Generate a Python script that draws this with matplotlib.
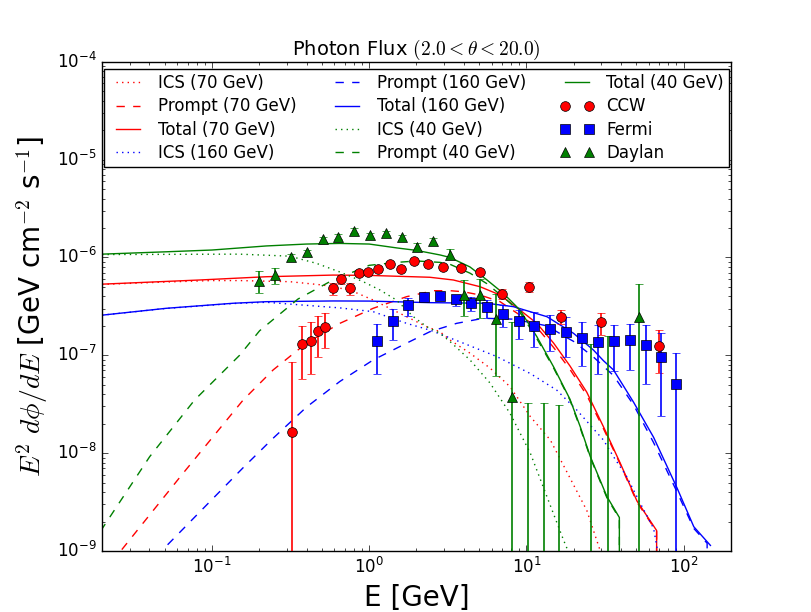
import matplotlib
matplotlib.use('Agg')
import matplotlib.pyplot as plt
from matplotlib.lines import Line2D
from matplotlib.legend_handler import HandlerLine2D
import numpy as np

plt.style.use('classic')

# ---------------- model curves ----------------
# 70 GeV
ics70_E = [0.02, 0.05, 0.1, 0.15, 0.313, 0.509, 0.753, 1.06, 1.35, 1.73, 2.32, 2.82, 3.27, 4.38,
           5.87, 7.87, 10.6, 14.2, 18.9, 24.2, 29.5, 31.0]
ics70_F = [5.3e-7, 5.6e-7, 5.8e-7, 5.8e-7, 5.65e-7, 5.22e-7, 4.65e-7, 3.67e-7, 3.02e-7, 2.48e-7,
           1.96e-7, 1.74e-7, 1.43e-7, 1.05e-7, 7.4e-8, 4.77e-8, 2.36e-8, 1.36e-8, 5.6e-9, 2.6e-9,
           1.0e-9, 8.0e-10]
pr70_E = [0.02, 0.0263, 0.0654, 0.158, 0.245, 0.399, 0.651, 1.06, 1.73, 2.56, 3.27, 3.97, 5.07,
          6.8, 9.1, 11.65, 14.9, 18.9, 24.2, 30.9, 39.5, 50.5, 67.3, 68.0]
pr70_F = [5.5e-10, 1.0e-9, 6.2e-9, 3.49e-8, 7.08e-8, 1.33e-7, 2.12e-7, 3.02e-7, 3.97e-7, 4.57e-7,
          4.57e-7, 4.46e-7, 4.13e-7, 3.53e-7, 2.57e-7, 1.93e-7, 1.2e-7, 7.2e-8, 3.9e-8, 1.78e-8,
          7.7e-9, 3.15e-9, 1.58e-9, 0.0]
tot70_E = [0.02, 0.0835, 0.222, 0.59, 1.0, 2.43, 3.43, 5.07, 6.8, 9.1, 11.65, 14.9, 18.9, 24.2,
           30.9, 39.5, 50.5, 67.3, 68.0]
tot70_F = [5.33e-7, 5.88e-7, 6.35e-7, 6.6e-7, 6.55e-7, 6.27e-7, 5.88e-7, 5.02e-7, 4.13e-7, 2.9e-7,
           2.12e-7, 1.33e-7, 7.8e-8, 4.2e-8, 1.86e-8, 7.9e-9, 3.24e-9, 1.62e-9, 0.0]

# 160 GeV
ics160_E = [0.02, 0.05, 0.136, 0.222, 0.651, 1.06, 1.73, 2.43, 3.97, 6.48, 10.6, 15.6, 20.9, 30.9,
            35.8, 43.6, 53.0, 64.4, 67.6, 70.0]
ics160_F = [2.57e-7, 3.0e-7, 3.38e-7, 3.48e-7, 3.05e-7, 2.79e-7, 2.12e-7, 1.81e-7, 1.33e-7, 9.7e-8,
            6.5e-8, 4.4e-8, 2.76e-8, 1.36e-8, 9.2e-9, 5.7e-9, 3.07e-9, 1.7e-9, 1.1e-9, 7.0e-10]
pr160_E = [0.045, 0.0512, 0.158, 0.245, 0.399, 0.651, 1.06, 1.73, 2.43, 3.6, 5.33, 8.26, 13.5,
           18.0, 19.9, 26.7, 35.8, 48.1, 64.4, 90.8, 116.0, 141.0, 142.0]
pr160_F = [8.5e-10, 1.12e-9, 7.1e-9, 1.42e-8, 2.95e-8, 5.4e-8, 8.95e-8, 1.33e-7, 1.74e-7, 2.12e-7,
           2.39e-7, 2.34e-7, 2.0e-7, 1.52e-7, 1.39e-7, 9.6e-8, 6.2e-8, 3.1e-8, 1.28e-8, 4.0e-9,
           1.7e-9, 1.2e-9, 0.0]
tot160_E = [0.02, 0.0512, 0.136, 0.222, 0.59, 1.0, 2.43, 5.6, 8.26, 13.5, 19.9, 26.7, 30.9, 35.8,
            48.1, 64.4, 90.8, 116.0, 148.0]
tot160_F = [2.57e-7, 3.02e-7, 3.40e-7, 3.53e-7, 3.59e-7, 3.58e-7, 3.45e-7, 3.40e-7, 3.14e-7,
            2.48e-7, 1.68e-7, 1.13e-7, 8.8e-8, 7.08e-8, 3.3e-8, 1.45e-8, 4.4e-9, 1.77e-9, 1.14e-9]

# 40 GeV
ics40_E = [0.02, 0.15, 0.313, 0.462, 0.651, 0.916, 1.17, 1.49, 1.91, 2.32, 2.82, 3.27, 4.38, 5.87,
           7.87, 10.6, 13.5, 17.2, 18.4, 20.0]
ics40_F = [1.07e-6, 1.08e-6, 1.03e-6, 8.7e-7, 7.1e-7, 5.65e-7, 4.65e-7, 3.67e-7, 2.48e-7, 1.96e-7,
           1.68e-7, 1.38e-7, 8.95e-8, 5.2e-8, 2.55e-8, 9.96e-9, 3.6e-9, 1.3e-9, 1.0e-9, 7.0e-10]
pr40_E = [0.0196, 0.0402, 0.0776, 0.15, 0.201, 0.353, 0.562, 1.0, 1.5, 2.0, 2.82, 3.27, 4.38, 5.6,
          7.5, 9.1, 11.65, 14.9, 18.9, 22.0, 25.5, 32.5, 39.0, 39.5]
pr40_F = [1.6e-9, 9.2e-9, 3.49e-8, 1.0e-7, 1.78e-7, 3.76e-7, 5.65e-7, 8.3e-7, 8.9e-7, 9.2e-7,
          8.9e-7, 8.5e-7, 6.9e-7, 5.4e-7, 3.67e-7, 2.75e-7, 1.48e-7, 7.4e-8, 3.5e-8, 1.8e-8,
          9.0e-9, 3.5e-9, 2.15e-9, 0.0]
tot40_E = [0.02, 0.05, 0.1, 0.222, 0.40, 0.65, 1.0, 1.5, 2.0, 2.82, 3.26, 4.37, 5.6, 7.13, 9.1,
           11.65, 14.9, 18.9, 22.0, 25.5, 32.5, 39.0, 39.5]
tot40_F = [1.08e-6, 1.14e-6, 1.19e-6, 1.31e-6, 1.37e-6, 1.39e-6, 1.37e-6, 1.25e-6, 1.18e-6,
           1.06e-6, 1.0e-6, 8.0e-7, 5.9e-7, 4.3e-7, 2.9e-7, 1.55e-7, 7.6e-8, 3.57e-8, 1.86e-8,
           9.2e-9, 3.6e-9, 2.2e-9, 0.0]

# ---------------- data points ----------------
ccw_E = [0.323, 0.374, 0.427, 0.473, 0.525, 0.590, 0.663, 0.757, 0.859, 0.98, 1.14, 1.35, 1.60,
         1.93, 2.38, 2.96, 3.85, 5.09, 7.03, 10.4, 16.7, 29.9, 70.0]
ccw_F = [1.64e-8, 1.29e-7, 1.40e-7, 1.77e-7, 1.95e-7, 4.83e-7, 5.97e-7, 4.83e-7, 6.9e-7, 7.05e-7,
         7.7e-7, 8.5e-7, 7.6e-7, 9.3e-7, 8.5e-7, 7.98e-7, 7.75e-7, 7.1e-7, 4.2e-7, 4.99e-7,
         2.46e-7, 2.17e-7, 1.25e-7]
ccw_lo = [1e-12, 5.7e-8, 6.4e-8, 9.6e-8, 1.18e-7, 4.1e-7, 5.4e-7, 4.1e-7, 6.5e-7, 6.7e-7, 7.3e-7,
          8.1e-7, 7.2e-7, 8.9e-7, 8.1e-7, 7.6e-7, 7.4e-7, 6.7e-7, 3.73e-7, 4.4e-7, 2.07e-7,
          1.6e-7, 6.6e-8]
ccw_hi = [8.6e-8, 2.0e-7, 2.17e-7, 2.54e-7, 2.72e-7, 5.5e-7, 6.6e-7, 5.5e-7, 7.3e-7, 7.4e-7,
          8.1e-7, 8.9e-7, 8.0e-7, 9.7e-7, 8.9e-7, 8.4e-7, 8.1e-7, 7.5e-7, 4.72e-7, 5.57e-7,
          2.9e-7, 2.72e-7, 1.81e-7]

fermi_E = [1.125, 1.42, 1.77, 2.23, 2.83, 3.58, 4.47, 5.64, 7.14, 9.02, 11.2, 14.2, 17.9, 22.6,
           28.5, 35.8, 45.3, 57.3, 71.4, 89.8]
fermi_F = [1.39e-7, 2.22e-7, 3.24e-7, 3.9e-7, 4.04e-7, 3.73e-7, 3.40e-7, 3.09e-7, 2.64e-7,
           2.24e-7, 1.98e-7, 1.84e-7, 1.72e-7, 1.49e-7, 1.36e-7, 1.39e-7, 1.42e-7, 1.26e-7,
           9.5e-8, 5.1e-8]
fermi_lo = [6.5e-8, 1.43e-7, 2.50e-7, 3.6e-7, 3.72e-7, 3.19e-7, 2.86e-7, 2.40e-7, 1.96e-7,
            1.47e-7, 1.22e-7, 1.10e-7, 9.7e-8, 7.8e-8, 6.5e-8, 6.9e-8, 7.0e-8, 5.05e-8, 2.4e-8,
            1e-12]
fermi_hi = [2.07e-7, 3.0e-7, 3.87e-7, 4.2e-7, 4.36e-7, 4.1e-7, 3.94e-7, 3.67e-7, 3.26e-7, 2.9e-7,
            2.75e-7, 2.58e-7, 2.44e-7, 2.2e-7, 2.02e-7, 2.05e-7, 2.1e-7, 2.02e-7, 1.68e-7,
            1.05e-7]

daylan_E = [0.199, 0.252, 0.317, 0.403, 0.509, 0.635, 0.80, 1.01, 1.28, 1.61, 2.02, 2.56, 3.25,
            4.03, 5.09, 6.44, 8.14, 10.2, 13.0, 16.2, 25.8, 32.8, 51.7]
daylan_F = [5.74e-7, 6.6e-7, 1.0e-6, 1.13e-6, 1.53e-6, 1.63e-6, 1.88e-6, 1.68e-6, 1.79e-6,
            1.61e-6, 1.29e-6, 1.48e-6, 1.06e-6, 4.16e-7, 4.16e-7, 2.35e-7, 3.77e-8, 1e-12, 1e-12,
            1e-12, 1e-12, 1e-12, 2.46e-7]
daylan_lo = [4.3e-7, 5.35e-7, 9.2e-7, 1.06e-6, 1.45e-6, 1.54e-6, 1.78e-6, 1.59e-6, 1.70e-6,
             1.52e-6, 1.17e-6, 1.37e-6, 9.6e-7, 2.5e-7, 2.42e-7, 6.2e-8, 1e-13, 1e-13, 1e-13,
             1e-13, 1e-13, 1e-13, 1e-13]
daylan_hi = [7.2e-7, 7.85e-7, 1.08e-6, 1.2e-6, 1.61e-6, 1.72e-6, 1.98e-6, 1.77e-6, 1.88e-6,
             1.70e-6, 1.41e-6, 1.59e-6, 1.22e-6, 5.9e-7, 6.0e-7, 4.2e-7, 2.2e-7, 3.27e-8, 3.27e-8,
             3.08e-8, 1.29e-7, 1.56e-7, 5.3e-7]

labels = ['ICS (70 GeV)', 'Prompt (70 GeV)', 'Total (70 GeV)',
          'ICS (160 GeV)', 'Prompt (160 GeV)', 'Total (160 GeV)',
          'ICS (40 GeV)', 'Prompt (40 GeV)', 'Total (40 GeV)',
          'CCW', 'Fermi', 'Daylan']


class OffsetLineHandler(HandlerLine2D):
    """Line legend handle that starts a little inside the handle box and
    puts the markers on the two ends of the line (old matplotlib look)."""

    def get_xdata(self, legend, xdescent, ydescent, width, height, fontsize):
        n = self.get_numpoints(legend)
        x0 = -xdescent + 0.42 * fontsize
        x1 = -xdescent + width
        xd = np.linspace(x0, x1, max(n, 2))
        return xd, xd


fig = plt.figure(figsize=(8.12, 6.12), dpi=100)
ax = fig.add_axes([102 / 812, (612 - 551) / 612, 629 / 812, 489.3 / 612])
ax.set_xscale('log')
ax.set_yscale('log')

h = []
h += ax.plot(ics70_E, ics70_F, 'r:')
h += ax.plot(pr70_E, pr70_F, 'r--')
h += ax.plot(tot70_E, tot70_F, 'r-')
h += ax.plot(ics160_E, ics160_F, 'b:')
h += ax.plot(pr160_E, pr160_F, 'b--')
h += ax.plot(tot160_E, tot160_F, 'b-')
h += ax.plot(ics40_E, ics40_F, 'g:')
h += ax.plot(pr40_E, pr40_F, 'g--')
h += ax.plot(tot40_E, tot40_F, 'g-')


def eb(E, F, lo, hi, fmt, col):
    F = np.array(F)
    yerr = [F - np.array(lo), np.array(hi) - F]
    ax.errorbar(E, F, yerr=yerr, fmt=fmt, color=col, ecolor=col, mec='k', mew=0.5,
                ms=7, capsize=3, elinewidth=1.2, zorder=3)


eb(ccw_E, ccw_F, ccw_lo, ccw_hi, 'o', 'r')
eb(fermi_E, fermi_F, fermi_lo, fermi_hi, 's', 'b')
eb(daylan_E, daylan_F, daylan_lo, daylan_hi, '^', 'g')

h += [Line2D([], [], ls='none', marker='o', color='r', mec='k', mew=0.5, ms=7),
      Line2D([], [], ls='none', marker='s', color='b', mec='k', mew=0.5, ms=7),
      Line2D([], [], ls='none', marker='^', color='g', mec='k', mew=0.5, ms=7)]

ax.set_xlim(0.02, 200)
ax.set_ylim(1e-9, 1e-4)

hm = {hh: OffsetLineHandler() for hh in h}
ax.legend(h, labels, ncol=3, mode='expand', loc='upper left',
          bbox_to_anchor=(0.003, 0.985, 0.994, 0.0), borderaxespad=0.0, numpoints=2,
          fontsize=12, handlelength=1.88, handletextpad=1.04, labelspacing=0.32,
          borderpad=0.3, handler_map=hm)

ax.set_title(r'Photon Flux $(2.0 < \theta < 20.0)$', fontsize=14)
ax.set_xlabel('E [GeV]', fontsize=20)
ax.set_ylabel(r'$E^2\ d\phi/dE$ [GeV cm$^{-2}$ s$^{-1}$]', fontsize=20)

fig.savefig('out.png', dpi=100)
